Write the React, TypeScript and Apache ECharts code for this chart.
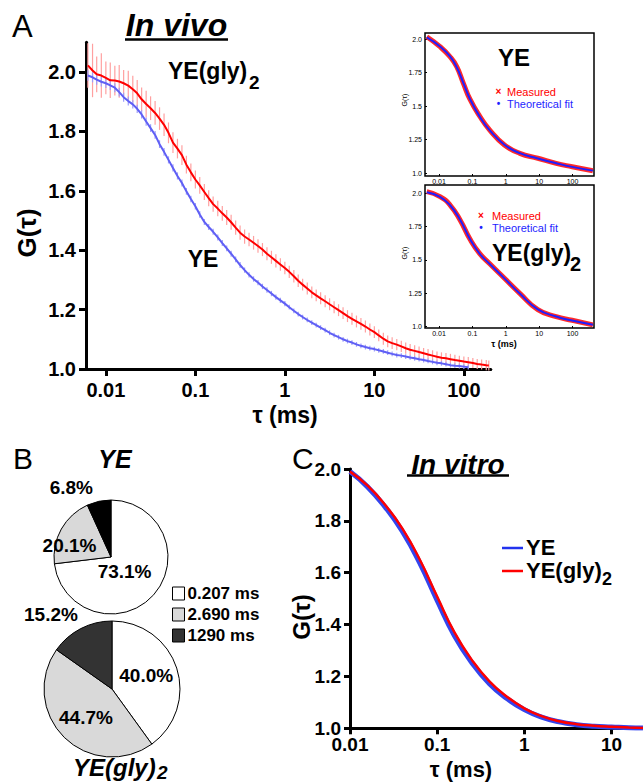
import React, { useEffect, useRef } from 'react';
import * as echarts from 'echarts';

const FONT = '"Liberation Sans", Arial, Helvetica, sans-serif';
const lg = (v: number) => Math.log10(v);

// ---------- Panel A: in vivo (tau in ms) ----------
const tauInVivo = [0.0063, 0.0071, 0.0079, 0.0089, 0.01, 0.0112, 0.0126, 0.0141, 0.0158, 0.0178, 0.02, 0.0224, 0.0251, 0.0282, 0.0316, 0.0355, 0.0398, 0.0447, 0.0501, 0.0562, 0.0631, 0.0708, 0.0794, 0.0891, 0.1, 0.112, 0.126, 0.141, 0.158, 0.178, 0.2, 0.224, 0.251, 0.282, 0.316, 0.355, 0.398, 0.447, 0.501, 0.562, 0.631, 0.708, 0.794, 0.891, 1, 1.12, 1.26, 1.41, 1.58, 1.78, 2, 2.24, 2.51, 2.82, 3.16, 3.55, 3.98, 4.47, 5.01, 5.62, 6.31, 7.08, 7.94, 8.91, 10, 11.2, 12.6, 14.1, 15.8, 17.8, 20, 22.4, 25.1, 28.2, 31.6, 35.5, 39.8, 44.7, 50.1, 56.2, 63.1, 70.8, 79.4, 89.1, 100, 112, 126, 141, 158, 178, 190];
const gGly2InVivo = [2.022, 2.005, 1.992, 1.988, 1.98, 1.972, 1.971, 1.968, 1.962, 1.954, 1.942, 1.928, 1.908, 1.892, 1.878, 1.862, 1.843, 1.822, 1.795, 1.762, 1.742, 1.72, 1.688, 1.662, 1.638, 1.618, 1.596, 1.575, 1.555, 1.54, 1.524, 1.51, 1.494, 1.476, 1.459, 1.446, 1.436, 1.425, 1.414, 1.402, 1.388, 1.376, 1.364, 1.352, 1.34, 1.327, 1.312, 1.297, 1.284, 1.271, 1.258, 1.248, 1.238, 1.228, 1.218, 1.208, 1.198, 1.188, 1.178, 1.169, 1.16, 1.152, 1.143, 1.133, 1.124, 1.113, 1.102, 1.093, 1.087, 1.082, 1.076, 1.07, 1.065, 1.061, 1.057, 1.053, 1.049, 1.045, 1.041, 1.038, 1.036, 1.033, 1.03, 1.028, 1.025, 1.023, 1.02, 1.017, 1.015, 1.013, 1.012];
const errGly2InVivo = [0.075, 0.09, 0.06, 0.075, 0.055, 0.06, 0.05, 0.055, 0.045, 0.05, 0.045, 0.045, 0.04, 0.045, 0.04, 0.04, 0.038, 0.038, 0.035, 0.035, 0.033, 0.033, 0.03, 0.03, 0.03, 0.028, 0.027, 0.027, 0.026, 0.026, 0.025, 0.025, 0.025, 0.024, 0.024, 0.024, 0.023, 0.023, 0.023, 0.022, 0.022, 0.022, 0.022, 0.021, 0.021, 0.021, 0.021, 0.021, 0.02, 0.02, 0.02, 0.02, 0.02, 0.02, 0.02, 0.02, 0.02, 0.02, 0.02, 0.02, 0.02, 0.02, 0.02, 0.02, 0.02, 0.02, 0.02, 0.02, 0.02, 0.019, 0.019, 0.019, 0.019, 0.019, 0.019, 0.018, 0.018, 0.018, 0.018, 0.018, 0.018, 0.018, 0.018, 0.017, 0.017, 0.017, 0.017, 0.017, 0.017, 0.017, 0.017];
const gYEInVivo = [1.988, 1.982, 1.974, 1.967, 1.962, 1.955, 1.947, 1.932, 1.915, 1.902, 1.891, 1.876, 1.857, 1.833, 1.811, 1.788, 1.757, 1.731, 1.704, 1.677, 1.65, 1.626, 1.598, 1.572, 1.548, 1.52, 1.495, 1.478, 1.462, 1.443, 1.424, 1.406, 1.388, 1.369, 1.35, 1.333, 1.317, 1.303, 1.291, 1.278, 1.266, 1.254, 1.242, 1.231, 1.22, 1.208, 1.196, 1.185, 1.175, 1.165, 1.156, 1.148, 1.139, 1.131, 1.122, 1.114, 1.107, 1.1, 1.094, 1.089, 1.083, 1.078, 1.074, 1.07, 1.067, 1.063, 1.059, 1.055, 1.051, 1.047, 1.045, 1.042, 1.039, 1.036, 1.033, 1.03, 1.027, 1.024, 1.021, 1.019, 1.016, 1.013, 1.011, 1.01, 1.008, 1.006, null, null, null, null, null];
const errYEInVivo = [0.018, 0.017, 0.017, 0.016, 0.016, 0.016, 0.015, 0.015, 0.015, 0.015, 0.014, 0.014, 0.014, 0.014, 0.013, 0.013, 0.013, 0.013, 0.012, 0.012, 0.012, 0.012, 0.011, 0.011, 0.011, 0.011, 0.01, 0.01, 0.01, 0.01, 0.01, 0.01, 0.01, 0.01, 0.01, 0.009, 0.009, 0.009, 0.009, 0.009, 0.009, 0.009, 0.009, 0.009, 0.009, 0.008, 0.008, 0.008, 0.008, 0.008, 0.008, 0.008, 0.008, 0.008, 0.008, 0.008, 0.008, 0.008, 0.008, 0.008, 0.008, 0.008, 0.008, 0.008, 0.008, 0.008, 0.008, 0.008, 0.008, 0.008, 0.008, 0.008, 0.008, 0.008, 0.008, 0.008, 0.008, 0.008, 0.008, 0.008, 0.008, 0.008, 0.008, 0.008, 0.008, 0.008, null, null, null, null, null];
const tauTicksA = [0.01, 0.1, 1, 10, 100];
const gTicksA = [1.0, 1.2, 1.4, 1.6, 1.8, 2.0];

// ---------- Insets ----------
const tauInsetYE = [0.0043, 0.0107, 0.0214, 0.0339, 0.0537, 0.0851, 0.166, 0.331, 0.912, 2.63, 9.12, 32.4, 97.7, 407];
const gInsetYEMeasured = [2.017, 1.943, 1.868, 1.794, 1.67, 1.55, 1.425, 1.322, 1.211, 1.149, 1.112, 1.074, 1.049, 1.019];
const gInsetYEFit = [2.012, 1.945, 1.87, 1.79, 1.672, 1.552, 1.422, 1.32, 1.213, 1.15, 1.11, 1.075, 1.048, 1.02];
const tauInsetGly2 = [0.0043, 0.0107, 0.0214, 0.0427, 0.0851, 0.166, 0.331, 0.912, 2.63, 9.12, 32.4, 97.7, 407];
const gInsetGly2Measured = [2.012, 1.975, 1.912, 1.8, 1.655, 1.548, 1.472, 1.363, 1.25, 1.128, 1.075, 1.048, 1.013];
const gInsetGly2Fit = [2.008, 1.973, 1.91, 1.802, 1.656, 1.546, 1.47, 1.362, 1.248, 1.13, 1.076, 1.046, 1.015];
const tauTicksInset = [0.01, 0.1, 1, 10, 100];
const gTicksInset = [1.0, 1.25, 1.5, 1.75, 2.0];

// ---------- Panel B ----------
const pieCategories = ['0.207 ms', '2.690 ms', '1290 ms'];
const fractionsYE = [73.1, 20.1, 6.8];
const fractionsGly2 = [40.0, 44.7, 15.2];

// ---------- Panel C: in vitro ----------
const tauInVitro = [0.01, 0.0158, 0.0251, 0.0398, 0.0631, 0.1, 0.158, 0.251, 0.398, 0.631, 1, 1.58, 2.51, 3.98, 6.31, 10, 15.8, 23];
const gYEInVitro = [1.99, 1.932, 1.855, 1.76, 1.638, 1.493, 1.357, 1.252, 1.172, 1.115, 1.072, 1.043, 1.025, 1.014, 1.008, 1.005, 1.002, 1.001];
const gGly2InVitro = [1.99, 1.937, 1.863, 1.771, 1.651, 1.508, 1.37, 1.263, 1.181, 1.122, 1.077, 1.047, 1.027, 1.016, 1.01, 1.006, 1.003, 1.001];
const tauTicksC = [0.01, 0.1, 1, 10];
const gTicksC = [1.0, 1.2, 1.4, 1.6, 1.8, 2.0];

// ---------- styling (not data) ----------
const pieColorsYE = ['#ffffff', '#d9d9d9', '#000000'];
const pieColorsGly2 = ['#ffffff', '#d9d9d9', '#333333'];
const legendColors = ['#ffffff', '#d9d9d9', '#333333'];
const labelOffsetsYE = [[-10, -6], [-14, 4], [-33, -39]];
const labelOffsetsGly2 = [[-1, -2], [0, 2], [-44, -42]];

const fmtTau = (ticks: number[]) => (v: number) => {
  const t = ticks.find((k) => Math.abs(lg(k) - v) < 1e-6);
  return t === undefined ? '' : String(t);
};
const fmtG1 = (v: number) => v.toFixed(1);
const fmtGInset = (v: number) => (Number.isInteger(v) ? v.toFixed(1) : String(v));

function xAxisLog(gridIndex: number, min: number, max: number, ticks: number[], s: any) {
  return {
    type: 'value', gridIndex, min: lg(min), max: lg(max),
    axisLine: { show: s.showLine, onZero: false, lineStyle: { color: '#000', width: s.lw } },
    axisTick: { show: true, customValues: ticks.map(lg), inside: !!s.inside, length: s.tickLen, lineStyle: { color: '#000', width: s.tw ?? s.lw } },
    axisLabel: { customValues: ticks.map(lg), formatter: fmtTau(ticks), fontSize: s.fs, fontWeight: s.fw, fontFamily: FONT, color: '#000', margin: s.margin },
    splitLine: { show: false },
  };
}
function yAxisLin(gridIndex: number, min: number, max: number, ticks: number[], fmt: any, s: any) {
  return {
    type: 'value', gridIndex, min, max,
    axisLine: { show: s.showLine, onZero: false, lineStyle: { color: '#000', width: s.lw } },
    axisTick: { show: true, customValues: ticks, inside: !!s.inside, length: s.tickLen, lineStyle: { color: '#000', width: s.tw ?? s.lw } },
    axisLabel: { customValues: ticks, formatter: fmt, fontSize: s.fs, fontWeight: s.fw, fontFamily: FONT, color: '#000', margin: s.margin },
    splitLine: { show: false },
  };
}

function T(text: string, x: number, y: number, size: number, o: any = {}) {
  const align = o.align || 'center';
  return {
    type: 'text', x, y, rotation: o.rot || 0, z: 50,
    style: {
      text, fontSize: size, fontWeight: o.weight ?? 'bold', fontStyle: o.italic ? 'italic' : 'normal',
      fontFamily: FONT, fill: o.color || '#000',
      align, verticalAlign: 'middle', textAlign: align, textVerticalAlign: 'middle',
    },
  };
}
function L(x1: number, y1: number, x2: number, y2: number, color: string, w: number) {
  return { type: 'line', z: 50, shape: { x1, y1, x2, y2 }, style: { stroke: color, lineWidth: w } };
}

function errorBarSeries(tau: number[], g: (number | null)[], err: (number | null)[], color: string, z: number) {
  const data: any[] = [];
  tau.forEach((t, i) => {
    const v = g[i];
    const e = err[i];
    if (v != null && e != null) data.push([lg(t), v - e, v + e]);
  });
  return {
    type: 'custom', xAxisIndex: 0, yAxisIndex: 0, z, silent: true,
    encode: { x: 0, y: [1, 2] },
    data,
    renderItem: (params: any, api: any) => {
      const p1 = api.coord([api.value(0), api.value(1)]);
      const p2 = api.coord([api.value(0), api.value(2)]);
      return { type: 'line', shape: { x1: p1[0], y1: p1[1], x2: p2[0], y2: p2[1] }, style: { stroke: color, lineWidth: 1.2 } };
    },
  };
}
function lineSeries(ax: number, tau: number[], g: (number | null)[], color: string, width: number, z: number, smooth: any = false) {
  return {
    type: 'line', xAxisIndex: ax, yAxisIndex: ax, z, silent: true, smooth,
    symbol: 'none', connectNulls: false,
    lineStyle: { color, width },
    data: tau.map((t, i) => [lg(t), g[i]]).filter((d) => d[1] != null),
  };
}
function pieSeries(center: number[], r: number, values: number[], colors: string[], offsets: number[][]) {
  return {
    type: 'pie', center, radius: r, startAngle: 90, clockwise: true, silent: true, avoidLabelOverlap: false,
    itemStyle: { borderColor: '#000', borderWidth: 1 },
    labelLine: { show: false },
    label: { show: true, position: 'inside', formatter: (p: any) => p.value.toFixed(1) + '%', fontSize: 19, fontWeight: 'bold', fontFamily: FONT, color: '#000' },
    data: pieCategories.map((name, i) => ({
      name, value: values[i],
      itemStyle: { color: colors[i] },
      label: { offset: offsets[i], color: '#000' },
    })),
  };
}

export default function App() {
  const ref = useRef<HTMLDivElement>(null);
  useEffect(() => {
    if (!ref.current) return;
    const chart = echarts.init(ref.current, undefined, { renderer: 'svg' });
    const mainS = { showLine: true, lw: 3, tickLen: 7, fs: 20, fw: 'bold', margin: 10 };
    const insetS = { showLine: false, lw: 1, tickLen: 2, inside: true, fs: 7, fw: 'normal', margin: 3 };
    const cS = { showLine: true, lw: 3, tickLen: 6, fs: 19, fw: 'bold', margin: 8 };
    const option: any = {
      animation: false,
      backgroundColor: '#ffffff',
      grid: [
        { left: 86, top: 42.25, width: 404.8, height: 326.75, outerBoundsMode: 'none' },
        { left: 425, top: 33, width: 169, height: 143, show: true, borderColor: '#000', borderWidth: 1.5, backgroundColor: '#fff', outerBoundsMode: 'none' },
        { left: 425, top: 185, width: 169, height: 143, show: true, borderColor: '#000', borderWidth: 1.5, backgroundColor: '#fff', outerBoundsMode: 'none' },
        { left: 350, top: 469, width: 293, height: 259.3, outerBoundsMode: 'none' },
      ],
      xAxis: [
        xAxisLog(0, 0.006, 200, tauTicksA, { ...mainS, margin: 11 }),
        xAxisLog(1, 0.0038, 440, tauTicksInset, { ...insetS, margin: 2 }),
        xAxisLog(2, 0.0038, 440, tauTicksInset, { ...insetS, margin: 2 }),
        xAxisLog(3, 0.01, 23, tauTicksC, { ...cS, margin: 7 }),
      ],
      yAxis: [
        yAxisLin(0, 1.0, 2.1, gTicksA, fmtG1, mainS),
        yAxisLin(1, 0.98, 2.045, gTicksInset, fmtGInset, insetS),
        yAxisLin(2, 0.99, 2.062, gTicksInset, fmtGInset, insetS),
        yAxisLin(3, 1.0, 2.0, gTicksC, fmtG1, { ...cS, margin: 9 }),
      ],
      legend: [{
        data: pieCategories.map((name, i) => ({ name, icon: 'rect', itemStyle: { color: legendColors[i], borderColor: '#000', borderWidth: 1 } })),
        orient: 'vertical', left: 172, top: 585, itemWidth: 12, itemHeight: 13, itemGap: 4,
        selectedMode: false, padding: 0,
        textStyle: { fontSize: 17, fontWeight: 'bold', fontFamily: FONT, color: '#000', padding: [0, 0, 0, -2] },
      }],
      series: [
        errorBarSeries(tauInVivo, gGly2InVivo, errGly2InVivo, '#ffa0a0', 2),
        errorBarSeries(tauInVivo, gYEInVivo, errYEInVivo, '#9d9dfa', 3),
        lineSeries(0, tauInVivo, gYEInVivo, '#5f5ff5', 2, 4),
        lineSeries(0, tauInVivo, gGly2InVivo, '#ff0000', 2, 5),
        lineSeries(1, tauInsetYE, gInsetYEMeasured, '#ff2a2a', 5, 4, 0.5),
        lineSeries(1, tauInsetYE, gInsetYEFit, '#1f1fff', 2, 5, 0.5),
        lineSeries(2, tauInsetGly2, gInsetGly2Measured, '#ff2a2a', 5, 4, 0.5),
        lineSeries(2, tauInsetGly2, gInsetGly2Fit, '#1f1fff', 2, 5, 0.5),
        lineSeries(3, tauInVitro, gYEInVitro, '#3344ee', 5, 4, true),
        lineSeries(3, tauInVitro, gGly2InVitro, '#ff0000', 2.5, 5, true),
        pieSeries([111, 557], 57, fractionsYE, pieColorsYE, labelOffsetsYE),
        pieSeries([112, 689], 68, fractionsGly2, pieColorsGly2, labelOffsetsGly2),
      ],
      graphic: {
        elements: [
          // Panel A
          T('A', 12, 26, 31, { weight: 'normal', align: 'left' }),
          T('In vivo', 176.5, 25, 32, { italic: true }),
          L(125, 39.5, 228, 39.5, '#000', 2.5),
          T('G(τ)', 27, 233, 26, { rot: Math.PI / 2 }),
          T('τ (ms)', 285, 415, 23),
          T('YE(gly)', 168, 71, 23, { align: 'left' }),
          T('2', 249, 82, 19, { align: 'left' }),
          T('YE', 203, 259, 23),
          // Inset YE
          T('G(τ)', 404, 100, 7, { rot: Math.PI / 2, weight: 'normal' }),
          T('YE', 514, 57, 24),
          T('×', 498.5, 91, 10, { color: '#ff0000' }),
          T('Measured', 507, 91.5, 11, { align: 'left', weight: 'normal', color: '#ff0000' }),
          T('•', 498.5, 103, 10, { color: '#1f1fff' }),
          T('Theoretical fit', 507, 103.5, 11, { align: 'left', weight: 'normal', color: '#1f1fff' }),
          // Inset YE(gly)2
          T('G(τ)', 404, 253, 7, { rot: Math.PI / 2, weight: 'normal' }),
          T('×', 481, 215, 10, { color: '#ff0000' }),
          T('Measured', 492, 215.5, 11, { align: 'left', weight: 'normal', color: '#ff0000' }),
          T('•', 481, 227.5, 10, { color: '#1f1fff' }),
          T('Theoretical fit', 492, 228, 11, { align: 'left', weight: 'normal', color: '#1f1fff' }),
          T('YE(gly)', 492, 253, 23, { align: 'left' }),
          T('2', 570, 264, 20, { align: 'left' }),
          T('τ (ms)', 504, 344, 9),
          // Panel B
          T('B', 13, 458, 30, { weight: 'normal', align: 'left' }),
          T('YE', 115, 459, 25, { italic: true }),
          T('YE(gly)', 73, 767, 24, { italic: true, align: 'left' }),
          T('2', 157, 772, 19, { italic: true, align: 'left' }),
          // Panel C
          T('C', 292, 458, 30, { weight: 'normal', align: 'left' }),
          T('In vitro', 458, 464, 28, { italic: true }),
          L(407, 475.5, 509, 475.5, '#000', 2.5),
          T('G(τ)', 301, 617, 24, { rot: Math.PI / 2 }),
          T('τ (ms)', 461, 769, 22),
          L(502, 548, 523, 548, '#2233ee', 2.5),
          T('YE', 526, 547, 22, { align: 'left' }),
          L(502, 571, 523, 571, '#ff0000', 2.5),
          T('YE(gly)', 526, 570, 22, { align: 'left' }),
          T('2', 602, 579, 18, { align: 'left' }),
        ],
      },
    };
    chart.setOption(option);
    return () => chart.dispose();
  }, []);
  return <div ref={ref} style={{ position: 'absolute', left: 0, top: 0, width: 643, height: 783, background: '#fff' }} />;
}
